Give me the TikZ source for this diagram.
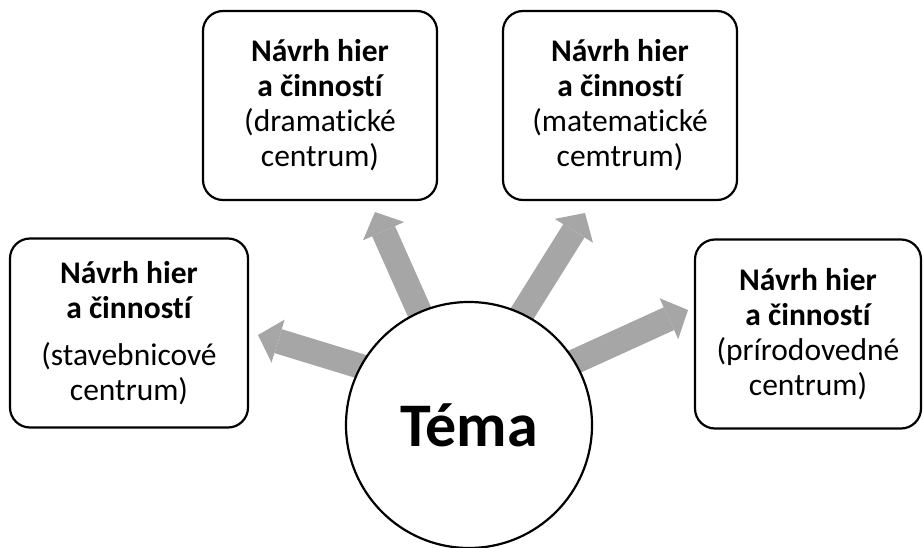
\documentclass[tikz,border=0pt]{standalone}
\usepackage{fontspec}
\setmainfont{Carlito}[Ligatures=NoCommon]
\usetikzlibrary{arrows.meta,calc}
\pgfdeclarelayer{bg}
\pgfsetlayers{bg,main}
\definecolor{arrowgray}{RGB}{166,166,166}
\newcommand\bline[1]{{\bfseries #1}}
\begin{document}
\begin{tikzpicture}[x=1pt,y=1pt,
  box/.style={draw=black, line width=2.2pt, rounded corners=20pt, fill=white,
    align=center, inner sep=0pt, minimum height=189pt,
    font=\fontsize{31.5}{35}\selectfont},
  hub/.style={circle, draw=black, line width=2.2pt, fill=white,
    minimum size=246pt, inner sep=0pt, font=\fontsize{62}{70}\selectfont\bfseries},
  blockarrow/.style={draw=arrowgray, line width=25pt,
    -{Triangle[length=21pt,width=45pt,line width=0pt]}}]
\useasboundingbox (0,0) rectangle (923,547);

\node[box, minimum width=238pt] (left) at (129,214)
  {\bline{Návrh hier}\\\bline{a činností}\\[12pt](stavebnicové\\centrum)};
\node[box, minimum width=234pt] (tl) at (320,441.5)
  {\bline{Návrh hier}\\\bline{a činností}\\(dramatické\\centrum)};
\node[box, minimum width=234pt] (tr) at (620,441.5)
  {\bline{Návrh hier}\\\bline{a činností}\\(matematické\\cemtrum)};
\node[box, minimum width=226pt] (right) at (808,213)
  {\bline{Návrh hier}\\\bline{a činností}\\(prírodovedné\\centrum)};

\node[hub] (tema) at (469,122) {Téma};

\coordinate (a1) at (258,212);
\coordinate (a2) at (375,335);
\coordinate (a3) at (585,334);
\coordinate (a4) at (688,237);
\coordinate (t1) at ($(a1)+(343:160)$);
\coordinate (t2) at ($(a2)+(294:160)$);
\coordinate (t3) at ($(a3)+(238:160)$);
\coordinate (t4) at ($(a4)+(204.5:160)$);

\begin{pgfonlayer}{bg}
\draw[blockarrow] (t1) -- (a1);
\draw[blockarrow] (t2) -- (a2);
\draw[blockarrow] (t3) -- (a3);
\draw[blockarrow] (t4) -- (a4);
\end{pgfonlayer}
\end{tikzpicture}
\end{document}
